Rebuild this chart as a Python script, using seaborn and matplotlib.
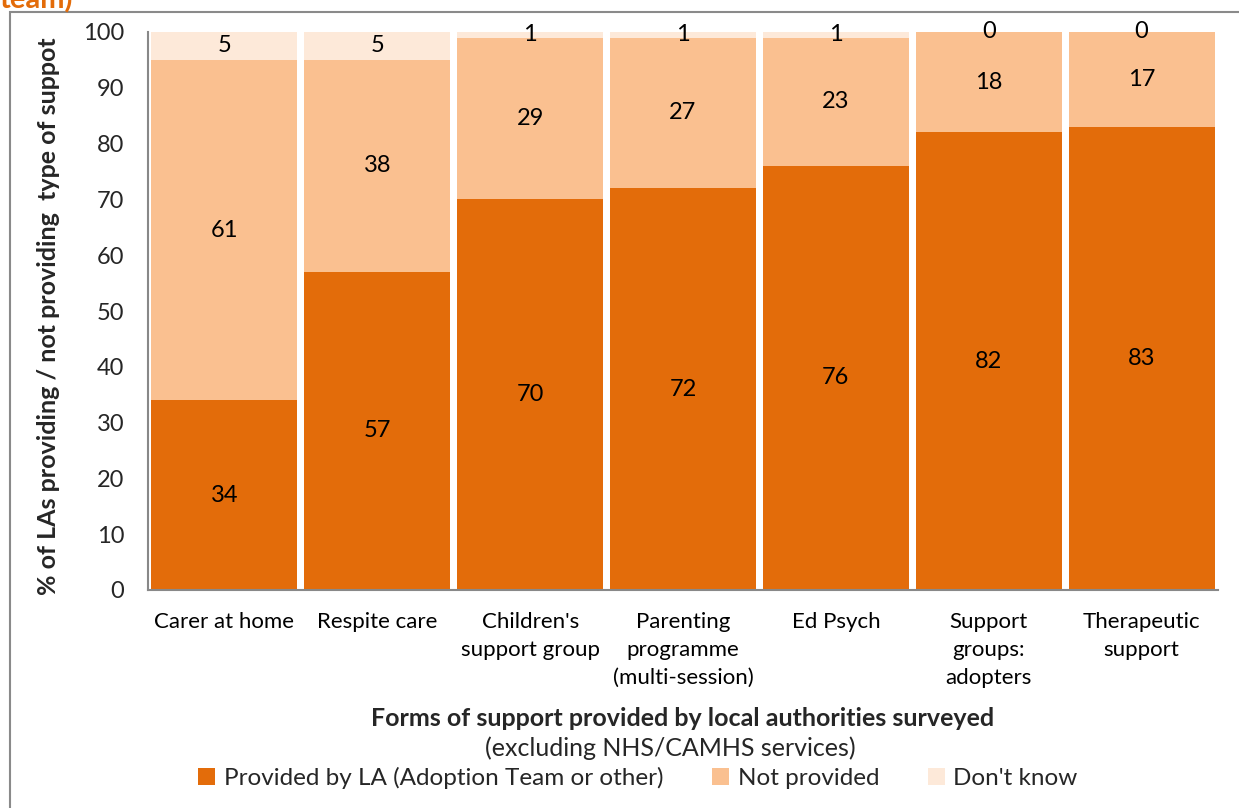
import matplotlib
matplotlib.use("Agg")
import matplotlib.pyplot as plt
from matplotlib.patches import Rectangle
import seaborn as sns
import pandas as pd
import numpy as np

categories = ["Carer at home", "Respite care", "Children's\nsupport group",
              "Parenting\nprogramme\n(multi-session)", "Ed Psych",
              "Support\ngroups:\nadopters", "Therapeutic\nsupport"]
provided = [34, 57, 70, 72, 76, 82, 83]
not_provided = [61, 38, 29, 27, 23, 18, 17]
dont_know = [5, 5, 1, 1, 1, 0, 0]
series_names = ["Provided by LA (Adoption Team or other)", "Not provided", "Don't know"]
colors = ["#E36C0A", "#FAC090", "#FDE9D9"]
y_ticks = list(range(0, 101, 10))

sns.set_theme(style="white")
plt.rcParams["font.family"] = ["Lato", "DejaVu Sans"]

fig = plt.figure(figsize=(12.39, 8.08), dpi=100)
ax = fig.add_axes([148 / 1239, 1 - 590 / 808, (1218 - 148) / 1239, (590 - 32) / 808])

df = pd.DataFrame({"cat": categories, "p": provided, "n": not_provided, "d": dont_know})
bottoms = np.zeros(len(categories))
for col, name, color in zip(["p", "n", "d"], series_names, colors):
    sns.barplot(data=df, x="cat", y=col, color=color, bottom=bottoms, width=0.955,
                saturation=1, ax=ax, label=name, linewidth=0)
    vals = df[col].to_numpy()
    for i, v in enumerate(vals):
        ax.text(i, bottoms[i] + v / 2, f"{v}", ha="center", va="center",
                fontsize=17, color="black")
    bottoms = bottoms + vals

ax.set_ylim(0, 100)
ax.set_xlim(-0.5, len(categories) - 0.5)
ax.set_yticks(y_ticks)
ax.set_yticklabels([str(t) for t in y_ticks], fontsize=17)
ax.set_xticks(range(len(categories)))
ax.set_xticklabels(categories, fontsize=16, linespacing=1.5)
ax.set_xticks(np.arange(-0.5, len(categories), 1), minor=True)
ax.tick_params(axis="x", which="major", length=0, pad=16, colors="black")
ax.tick_params(axis="x", which="minor", length=8, width=1.5, color="#888888", direction="out")
ax.tick_params(axis="y", length=7, width=1.5, color="#888888", direction="out", pad=10)
for s in ["top", "right"]:
    ax.spines[s].set_visible(False)
for s in ["left", "bottom"]:
    ax.spines[s].set_color("#888888")
    ax.spines[s].set_linewidth(1.5)

ax.set_xlabel("")
ax.set_ylabel("% of LAs providing / not providing  type of suppot", fontsize=18,
              fontweight="bold")
ax.yaxis.set_label_coords((60 - 148) / 1070, 0.49)

fig.text(683 / 1239, 1 - 718 / 808, "Forms of support provided by local authorities surveyed",
         ha="center", va="center", fontsize=18, fontweight="bold")
fig.text(670 / 1239, 1 - 748 / 808, "(excluding NHS/CAMHS services)",
         ha="center", va="center", fontsize=18)

handles, labels = ax.get_legend_handles_labels()
leg = fig.legend(handles, labels, loc="center", bbox_to_anchor=(638 / 1239, 1 - 778 / 808),
                 ncol=3, frameon=False, fontsize=17.5, handlelength=0.7, handleheight=0.7,
                 handletextpad=0.35, columnspacing=2.0)
if ax.get_legend() is not None:
    ax.get_legend().remove()

fig.text(0, 1 - 8 / 808, "team)", ha="left", va="baseline", fontsize=21,
         fontweight="bold", color="#E36C0A")

fig.patches.append(Rectangle((10 / 1239, -0.1), 1.2, 1.1 - 12 / 808,
                             transform=fig.transFigure, fill=False,
                             edgecolor="#8a8a8a", linewidth=1.5))

fig.savefig("out.png", dpi=100)
